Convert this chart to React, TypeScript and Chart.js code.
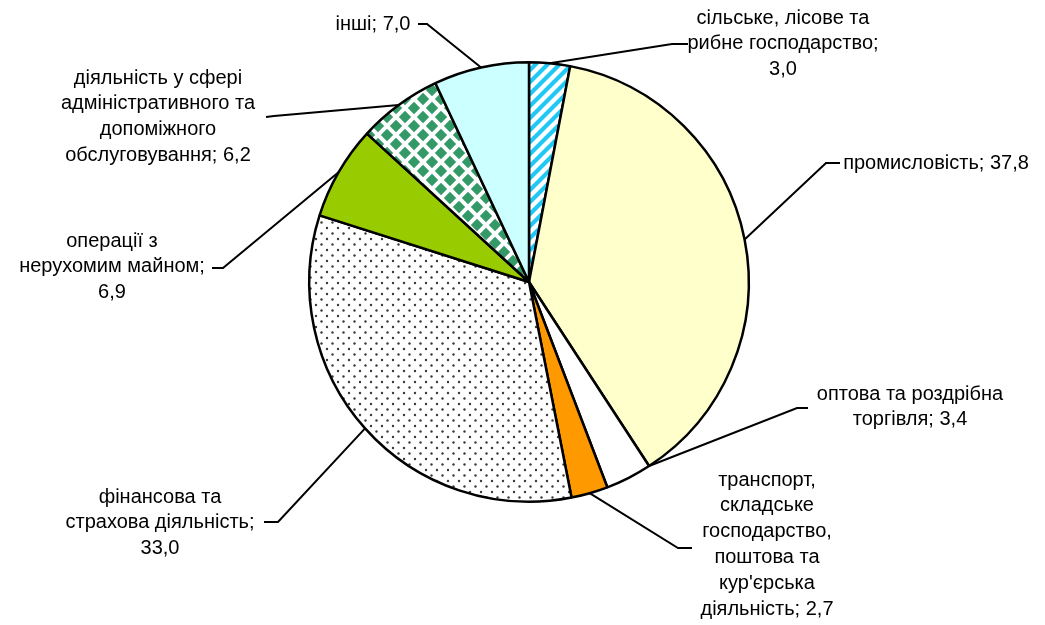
import React, { useEffect, useRef } from "react";
import { Chart, registerables } from "chart.js";

Chart.register(...registerables);

const categories: string[][] = [
  ["сільське, лісове та", "рибне господарство;", "3,0"],
  ["промисловість; 37,8"],
  ["оптова та роздрібна", "торгівля; 3,4"],
  ["транспорт,", "складське", "господарство,", "поштова та", "кур'єрська", "діяльність; 2,7"],
  ["фінансова та", "страхова діяльність;", "33,0"],
  ["операції з", "нерухомим майном;", "6,9"],
  ["діяльність у сфері", "адміністративного та", "допоміжного", "обслуговування; 6,2"],
  ["інші; 7,0"],
];
const shares: number[] = [3.0, 37.8, 3.4, 2.7, 33.0, 6.9, 6.2, 7.0];

// label layout (annotation placement): text centre x, first line centre y, leader start, elbow, anchor fraction along slice
const LABEL_LAYOUT = [
  { cx: 783, cy: 18, sx: 688, sy: 44, ex: 672, ey: 44, f: 0.5 },
  { cx: 936, cy: 163, sx: 840, sy: 163, ex: 826, ey: 163, f: 0.5 },
  { cx: 910, cy: 394, sx: 808, sy: 408, ex: 797, ey: 408, f: 0.0 },
  { cx: 767, cy: 480, sx: 692, sy: 548, ex: 678, ey: 548, f: 0.5 },
  { cx: 160, cy: 497, sx: 264, sy: 522, ex: 278, ey: 522, f: 0.5 },
  { cx: 112, cy: 241, sx: 212, sy: 268, ex: 223, ey: 268, f: 0.5 },
  { cx: 158, cy: 78, sx: 266, sy: 117, ex: 274, ey: 116, f: 0.5 },
  { cx: 373, cy: 24, sx: 418, sy: 24, ex: 427, ey: 24, f: 0.5 },
];
const LINE_H = 25.8;

function makeTile(size: number, draw: (c: CanvasRenderingContext2D) => void): CanvasPattern {
  const cv = document.createElement("canvas");
  cv.width = size;
  cv.height = size;
  const c = cv.getContext("2d")!;
  c.fillStyle = "#ffffff";
  c.fillRect(0, 0, size, size);
  draw(c);
  return c.createPattern(cv, "repeat")!;
}

export default function App() {
  const ref = useRef<HTMLCanvasElement>(null);
  useEffect(() => {
    const stripes = makeTile(12, (c) => {
      c.strokeStyle = "#22C8F5";
      c.lineWidth = 4.2;
      c.beginPath();
      c.moveTo(-6, 6); c.lineTo(6, -6);
      c.moveTo(0, 12); c.lineTo(12, 0);
      c.moveTo(6, 18); c.lineTo(18, 6);
      c.stroke();
    });
    const dots = makeTile(11, (c) => {
      c.fillStyle = "#3a3a3a";
      for (const [x, y] of [[2.5, 2.5], [8, 8]]) {
        c.beginPath();
        c.arc(x, y, 1.2, 0, Math.PI * 2);
        c.fill();
      }
    });
    const diamonds = makeTile(18, (c) => {
      c.fillStyle = "#339966";
      const d = 6.2;
      for (const [x, y] of [[9, 9], [0, 0], [18, 0], [0, 18], [18, 18]]) {
        c.beginPath();
        c.moveTo(x, y - d); c.lineTo(x + d, y); c.lineTo(x, y + d); c.lineTo(x - d, y);
        c.closePath();
        c.fill();
      }
    });
    const colors: (string | CanvasPattern)[] = [
      stripes, "#FFFFCC", "#FFFFFF", "#FF9900", dots, "#99CC00", diamonds, "#CCFFFF",
    ];

    const labelPlugin = {
      id: "labels",
      afterDraw(chart: any) {
        const ctx: CanvasRenderingContext2D = chart.ctx;
        const meta = chart.getDatasetMeta(0);
        ctx.save();
        ctx.strokeStyle = "#000";
        ctx.lineWidth = 2;
        ctx.fillStyle = "#000";
        ctx.font = '20px "Liberation Sans", Arial, sans-serif';
        ctx.textAlign = "center";
        ctx.textBaseline = "middle";
        meta.data.forEach((arc: any, i: number) => {
          const p = arc.getProps(["x", "y", "startAngle", "endAngle", "outerRadius"], true);
          const L = LABEL_LAYOUT[i];
          const a = p.startAngle + L.f * (p.endAngle - p.startAngle);
          const px = p.x + Math.cos(a) * p.outerRadius;
          const py = p.y + Math.sin(a) * p.outerRadius;
          ctx.beginPath();
          ctx.moveTo(L.sx, L.sy);
          ctx.lineTo(L.ex, L.ey);
          ctx.lineTo(px, py);
          ctx.stroke();
          categories[i].forEach((line, k) => {
            ctx.fillText(line, L.cx, L.cy + k * LINE_H);
          });
        });
        ctx.restore();
      },
    };

    const chart = new Chart(ref.current!, {
      type: "pie",
      data: {
        labels: categories.map((c) => c.join(" ")),
        datasets: [
          {
            data: shares,
            backgroundColor: colors as any,
            borderColor: "#000000",
            borderWidth: 2.5,
          },
        ],
      },
      options: {
        animation: false,
        responsive: false,
        devicePixelRatio: 1,
        layout: { padding: { left: 308, right: 295, top: 61, bottom: 122 } },
        plugins: { legend: { display: false }, tooltip: { enabled: false } },
      },
      plugins: [labelPlugin],
    });
    return () => chart.destroy();
  }, []);
  return (
    <div style={{ position: "absolute", left: 0, top: 0, width: 1045, height: 625, background: "#fff" }}>
      <canvas ref={ref} width={1045} height={625} />
    </div>
  );
}
